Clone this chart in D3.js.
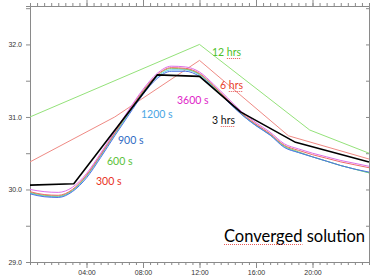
<!DOCTYPE html>
<html lang="en">
<head>
<meta charset="UTF-8">
<title>Converged solution</title>
<style>
  body { margin:0; background:#fff; }
  #CHART { display:block; }
  .lbl { font-family: Lato, "Open Sans", sans-serif; font-size: 10.5px; }
  .axis text { font-family: "Liberation Sans", Arial, sans-serif; font-size: 7px; fill:#333; }
  .axis path, .axis line { stroke:#8a8a8a; }
</style>
</head>
<body>
<svg id="CHART" width="370" height="275"></svg>
<script src="https://cdnjs.cloudflare.com/ajax/libs/d3/7.8.5/d3.min.js"></script>
<script>
// hours of day for the short-step runs
const HOURS = [0,1,2,3,4,5,6,7,8,9,10,11,12,13,14,15,16,17,18,19,20,21,22,23,24];

const S300  = [29.97,29.93,29.92,30.00,30.20,30.48,30.78,31.08,31.36,31.58,31.68,31.67,31.60,31.43,31.24,31.05,30.90,30.77,30.61,30.54,30.48,30.43,30.38,30.34,30.30];
const S600  = [29.96,29.92,29.91,29.99,30.19,30.47,30.77,31.06,31.35,31.57,31.67,31.66,31.59,31.42,31.23,31.04,30.89,30.76,30.60,30.52,30.45,30.39,30.33,30.28,30.23];
const S900  = [29.94,29.90,29.89,29.97,30.16,30.44,30.74,31.03,31.31,31.53,31.63,31.63,31.56,31.40,31.21,31.03,30.88,30.75,30.58,30.51,30.45,30.39,30.33,30.28,30.24];
const S1200 = [29.95,29.91,29.90,29.98,30.18,30.46,30.76,31.05,31.33,31.55,31.65,31.65,31.58,31.41,31.22,31.03,30.88,30.75,30.59,30.51,30.45,30.39,30.33,30.28,30.23];
const S3600 = [30.00,29.97,29.96,30.03,30.22,30.50,30.80,31.10,31.38,31.60,31.70,31.69,31.62,31.45,31.26,31.07,30.92,30.79,30.63,30.56,30.50,30.45,30.40,30.36,30.32];

// long-step runs (linear segments)
const H3_HOURS = [0, 3.1, 9.0, 12.0, 14.9, 18.8, 24];
const H3_VALS  = [30.06, 30.08, 31.58, 31.56, 31.07, 30.65, 30.38];
const H6_HOURS = [0, 6, 12, 18.3, 24];
const H6_VALS  = [30.38, 31.0, 31.78, 30.74, 30.42];
const H12_HOURS = [0, 12, 19.8, 24];
const H12_VALS  = [31.0, 32.0, 30.82, 30.50];

const X_LABEL_HOURS = [4, 8, 12, 16, 20];
const Y_LABELS = [29, 30, 31, 32];

var W = 370, H = 275;
var mLeft = 30, mRight = 369, mTop = 6, mBottom = 262;

var svg = d3.select("#CHART");

var x = d3.scaleLinear().domain([0, 24]).range([mLeft, mRight]);
var y = d3.scaleLinear().domain([29, 32.53]).range([mBottom, mTop]);

var minorX = d3.range(0, 24.01, 0.5);
var minorY = d3.range(29, 32.51, 0.5);
var fmtHour = function(h){ return (h < 10 ? "0" : "") + h + ":00"; };

// frame + ticks
function xAxis(gen, yPos, withLabels){
  var g = svg.append("g").attr("class", "axis").attr("transform", "translate(0," + yPos + ")");
  g.call(gen(x).tickValues(minorX).tickSize(3).tickFormat(""));
  g.append("g").call(gen(x).tickValues(X_LABEL_HOURS).tickSize(6).tickPadding(2)
      .tickFormat(withLabels ? fmtHour : ""))
    .select(".domain").remove();
  return g;
}
xAxis(d3.axisBottom, mBottom, true);
xAxis(d3.axisTop, mTop, false);

svg.append("g").attr("class", "axis").attr("transform", "translate(" + mLeft + ",0)")
  .call(d3.axisLeft(y).tickValues(minorY).tickSize(4).tickPadding(4)
    .tickFormat(function(d){ return Y_LABELS.indexOf(d) >= 0 ? d3.format(".1f")(d) : ""; }));
svg.append("g").attr("class", "axis").attr("transform", "translate(" + mRight + ",0)")
  .call(d3.axisLeft(y).tickValues(minorY).tickSize(3).tickFormat(""));

// lines
var smooth = d3.line().x(function(d){ return x(d[0]); }).y(function(d){ return y(d[1]); })
  .curve(d3.curveMonotoneX);
var straight = d3.line().x(function(d){ return x(d[0]); }).y(function(d){ return y(d[1]); });

var series = [
  { hrs: H12_HOURS, v: H12_VALS, color: "#94e27a", w: 1, gen: straight },
  { hrs: H6_HOURS,  v: H6_VALS,  color: "#ef8a84", w: 1, gen: straight },
  { hrs: HOURS, v: S1200, color: "#5ccbe6", w: 1, gen: smooth },
  { hrs: HOURS, v: S600,  color: "#7dd36a", w: 1, gen: smooth },
  { hrs: HOURS, v: S900,  color: "#4f72e4", w: 1, gen: smooth },
  { hrs: HOURS, v: S300,  color: "#ee6a6a", w: 1, gen: smooth },
  { hrs: HOURS, v: S3600, color: "#dd6fe8", w: 1, gen: smooth },
  { hrs: H3_HOURS, v: H3_VALS, color: "#000", w: 1.6, gen: straight }
];

svg.append("g").selectAll("path").data(series).join("path")
  .attr("fill", "none")
  .attr("stroke", function(d){ return d.color; })
  .attr("stroke-width", function(d){ return d.w; })
  .attr("stroke-linejoin", "round")
  .attr("d", function(d){ return d.gen(d.hrs.map(function(h, i){ return [h, d.v[i]]; })); });

// labels
var labels = [
  { t: "12 hrs", x: 212, y: 56, c: "#4cbf2a", sq: "hrs" },
  { t: "6 hrs",  x: 220, y: 89, c: "#e8412c", sq: "hrs" },
  { t: "3600 s", x: 177, y: 104, c: "#e026c8" },
  { t: "3 hrs",  x: 212, y: 124, c: "#111", sq: "hrs" },
  { t: "1200 s", x: 141, y: 118, c: "#4aa6e4" },
  { t: "900 s",  x: 118, y: 144, c: "#2f6cc4" },
  { t: "600 s",  x: 107, y: 165, c: "#5cc23a" },
  { t: "300 s",  x: 96,  y: 185, c: "#e8321e" },
  { t: "Converged solution", x: 224, y: 242, c: "#000", size: 16.5, sq: "Converged" }
];

labels.forEach(function(l){
  var t = svg.append("text").attr("class", "lbl")
    .attr("x", l.x).attr("y", l.y).attr("fill", l.c)
    .style("font-size", (l.size || 10.5) + "px")
    .text(l.t);
  if (l.sq) {
    // spell-check squiggle under a word
    var i = l.t.indexOf(l.sq);
    var node = t.node();
    var x0 = l.x + (i > 0 ? node.getSubStringLength(0, i) : 0);
    var w = node.getSubStringLength(i, l.sq.length);
    svg.append("line")
      .attr("x1", x0).attr("x2", x0 + w)
      .attr("y1", l.y + 2.5).attr("y2", l.y + 2.5)
      .attr("stroke", "#e03030").attr("stroke-width", 1)
      .attr("stroke-dasharray", "1,1").attr("opacity", 0.8);
  }
});
</script>
</body>
</html>
